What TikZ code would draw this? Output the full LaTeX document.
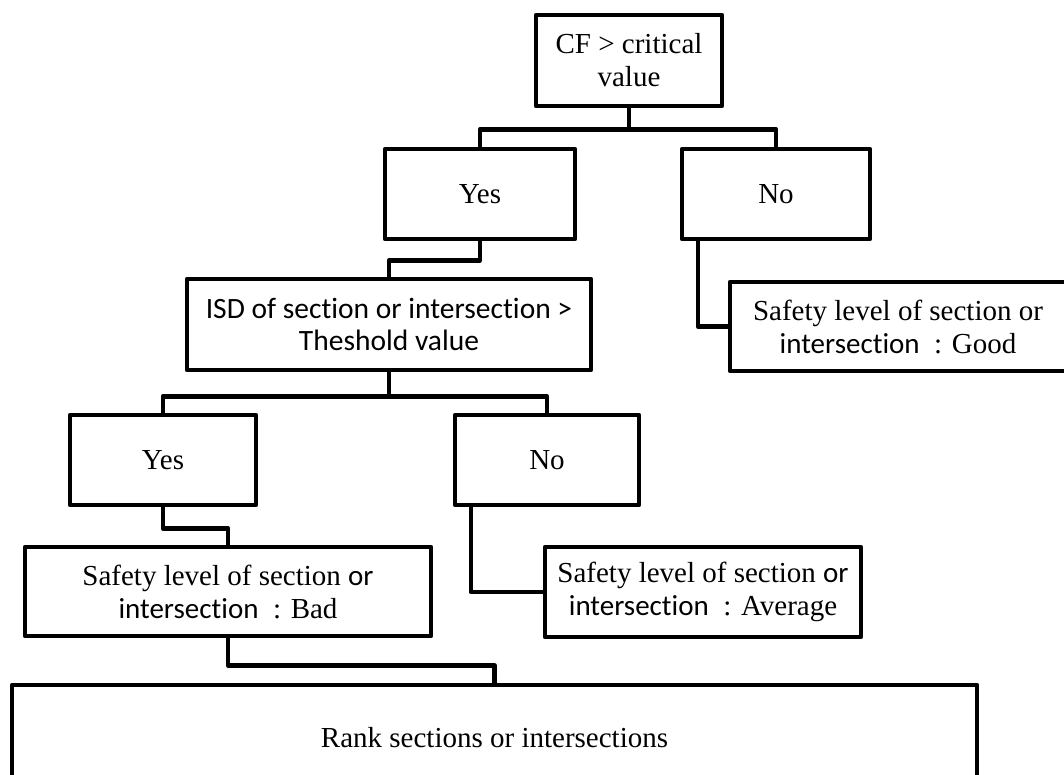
\documentclass[tikz,border=0pt]{standalone}
\usepackage{fontspec}
\setmainfont{Liberation Serif}
\newfontfamily\calfont[Ligatures=NoCommon]{Carlito}
\begin{document}
\begin{tikzpicture}[x=1pt,y=-1pt,
  box/.style={draw=black,line width=4.5pt,line join=round,inner sep=0pt,align=center,
    font=\fontsize{29}{33}\selectfont},
  link/.style={draw=black,line width=4.5pt,line join=round}]
\useasboundingbox (0,0) rectangle (1064,774);
\clip (0,0) rectangle (1064,774);
\node[box,minimum width=186pt,minimum height=91pt] (top) at (629,60.5) {CF > critical\\value};
\node[box,minimum width=190pt,minimum height=90pt] (yes1) at (480,194) {Yes};
\node[box,minimum width=188pt,minimum height=90pt] (no1) at (776,194) {No};
\node[box,minimum width=404pt,minimum height=91pt,font=\calfont\fontsize{29.5}{32}\selectfont] (isd) at (389,324.5) {ISD of section or intersection >\\Theshold value};
\node[box,minimum width=336pt,minimum height=89pt] (good) at (898,326.5) {Safety level of section or\\{\calfont intersection}~ : Good};
\node[box,minimum width=186pt,minimum height=90pt] (yes2) at (163,460) {Yes};
\node[box,minimum width=184pt,minimum height=90pt] (no2) at (547,460) {No};
\node[box,minimum width=406pt,minimum height=89pt] (bad) at (228,591.5) {Safety level of section {\calfont or}\\{\calfont intersection}~ : Bad};
\node[box,minimum width=316pt,minimum height=90pt] (avg) at (703,592) {Safety level of section {\calfont or}\\{\calfont intersection}~ : Average};
\node[box,minimum width=965pt,minimum height=105pt] (rank) at (494.5,737.5) {Rank sections or intersections};
% connectors
\draw[link] (top.south) -- ++(0,21) coordinate (b1);
\draw[link] (yes1.north) |- (b1) -| (no1.north);
\draw[link] (yes1.south) -- ++(0,19) -| (isd.north);
\draw[link] (isd.south) -- ++(0,24) coordinate (b2);
\draw[link] (yes2.north) |- (b2) -| (no2.north);
\draw[link] (yes2.south) -- ++(0,21) -| (bad.north);
\draw[link] ([xshift=18pt]no2.south west) |- (avg.west);
\draw[link] ([xshift=18pt]no1.south west) |- (good.west);
\draw[link] (bad.south) -- ++(0,27) -| (rank.north);
\end{tikzpicture}
\end{document}
